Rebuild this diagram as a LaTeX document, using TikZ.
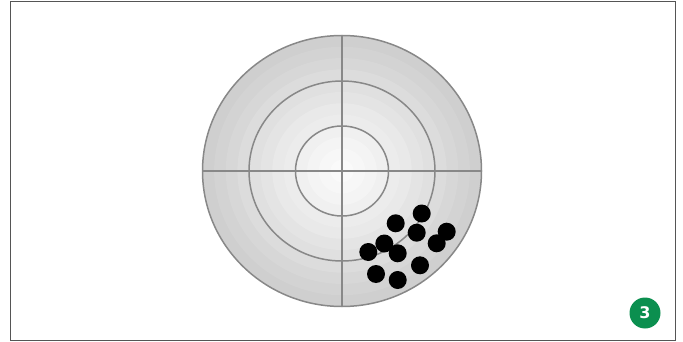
\documentclass[tikz,border=0pt]{standalone}
\usepackage{fontspec}
\setmainfont{DejaVu Sans}
\definecolor{ringline}{HTML}{888888}
\definecolor{badge}{HTML}{0B8F4F}
\definecolor{frameline}{HTML}{555555}
\tikzset{
  ring/.style={draw=ringline, line width=1.5pt},
  hit/.style={circle, fill=black, minimum size=18pt, inner sep=0pt},
  badgenode/.style={circle, fill=badge, minimum size=31pt, inner sep=0pt, text=white, font=\bfseries\fontsize{16}{16}\selectfont}
}
\begin{document}
\begin{tikzpicture}[x=1pt,y=-1pt]
\useasboundingbox (0,0) rectangle (683,342);
\draw[frameline, line width=1pt] (10.5,1.5) rectangle (675.5,340.5);
\coordinate (c) at (342,171);
% shaded target with banding
\foreach \i in {12,11,...,1}{
  \pgfmathsetmacro{\shade}{2+36*(\i/12)^1.2}
  \fill[gray!\shade] (c) ellipse [x radius={139.5*\i/12}, y radius={135.5*\i/12}];
}
\draw[ring] (c) ellipse [x radius=139.5, y radius=135.5];
\draw[ring] (c) ellipse [x radius=93, y radius=90];
\draw[ring] (c) ellipse [x radius=46.5, y radius=45];
\coordinate (l) at (202.5,171);
\coordinate (r) at (481.5,171);
\coordinate (t) at (342,35.5);
\coordinate (b) at (342,306.5);
\draw[ring] (l) -- (r);
\draw[ring] (t) -- (b);
% hits
\foreach \x/\y [count=\k] in {421.7/213.5, 395.7/223.3, 416.7/232.7, 446.7/231.7, 436.7/243.3, 384.3/243.5, 368.3/252, 397.7/253.3, 420/265.3, 376/274, 397.7/280}{
  \node[hit] (h\k) at (\x,\y) {};
}
\node[badgenode] (badge) at (645,313) {3};
\end{tikzpicture}
\end{document}
